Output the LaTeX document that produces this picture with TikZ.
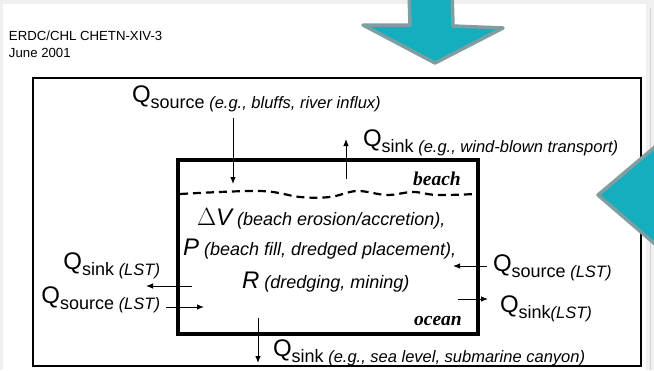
\documentclass[tikz,border=0pt]{standalone}
\usepackage{fontspec}
\setmainfont{Liberation Sans}
\newfontfamily\serifbi{Liberation Serif}
\usetikzlibrary{arrows.meta}
\definecolor{tealfill}{HTML}{14AEBF}
\definecolor{tealedge}{HTML}{7F9EA2}
\newcommand{\QQ}[1]{\raisebox{5.5pt}{\fontsize{24}{24}\selectfont Q}{\fontsize{18}{18}\selectfont #1}}
\newcommand{\ITx}[1]{{\fontsize{16.5}{16.5}\selectfont\itshape #1}}
\newcommand{\ITin}[1]{{\fontsize{18}{18}\selectfont\itshape #1}}
\newcommand{\BIG}[1]{{\fontsize{24}{24}\selectfont #1}}
\begin{document}
\begin{tikzpicture}[x=1pt,y=-1pt,
  lab/.style={inner sep=0pt, outer sep=0pt, anchor=base west},
  flow/.style={-{Latex[length=7pt,width=5.5pt]}, line width=0.9pt},
  zone/.style={inner sep=0pt, anchor=base east, font=\serifbi\bfseries\itshape\fontsize{19.5}{19.5}\selectfont},
  tealarrow/.style={draw=tealedge, fill=tealfill, line width=3.5pt, line join=round}]
\useasboundingbox (0,0) rectangle (654,370);
% background / page
\fill[gray!12] (0,0) rectangle (654,370);
\fill[white] (3,4) rectangle (646,370);
\draw[gray!35, line width=0.8pt] (650,8) -- (650,370);
% header
\node[lab, font=\fontsize{13.2}{13.2}\selectfont] (hdr1) at (9,40) {ERDC/CHL CHETN-XIV-3};
\node[lab, font=\fontsize{13.2}{13.2}\selectfont] (hdr2) at (9,57) {June 2001};
% outer frame
\draw[line width=1.2pt] (33,78) rectangle (641,366);
% inner box
\node[draw, line width=3.5pt, minimum width=300pt, minimum height=174pt, inner sep=0pt] (box) at (328,247) {};
% shoreline
\draw[dash pattern=on 8pt off 5pt, line width=2.2pt] plot[smooth, tension=0.6] coordinates {(180,194) (260,191) (300,197) (330,197) (357,191) (387,195) (413,192) (437,195) (476,194)};
% zone labels
\node[zone] (beach) at (461,185) {beach};
\node[zone] (ocean) at (462,325) {ocean};
% inner text
\node[lab] (dv) at (197,225) {\BIG{$\Delta$\itshape V}\ITin{ (beach erosion/accretion),}};
\node[lab] (pp) at (183,255) {\BIG{\itshape P}\ITin{ (beach fill, dredged placement),}};
\node[lab] (rr) at (242,288) {\BIG{\itshape R}\ITin{ (dredging, mining)}};
% flux labels
\node[lab] (qsrcT) at (132,108) {\QQ{source}\ITx{ (e.g., bluffs, river influx)}};
\node[lab] (qsnkT) at (363,152) {\QQ{sink}\ITx{ (e.g., wind-blown transport)}};
\node[lab, anchor=base east] (qsnkL) at (160,275) {\QQ{sink}\ITx{ (LST)}};
\node[lab, anchor=base east] (qsrcL) at (160,309) {\QQ{source}\ITx{ (LST)}};
\node[lab] (qsrcR) at (493,277) {\QQ{source}\ITx{ (LST)}};
\node[lab] (qsnkR) at (500,318) {\QQ{sink}\ITx{(LST)}};
\node[lab] (qsnkB) at (273,362) {\QQ{sink}\ITx{ (e.g., sea level, submarine canyon)}};
% arrow ends
\coordinate (a1s) at (233,118); \coordinate (a1e) at (233,184);
\coordinate (a2s) at (346,179); \coordinate (a2e) at (346,139);
\coordinate (a3s) at (192,286); \coordinate (a3e) at (146,286);
\coordinate (a4s) at (166,307); \coordinate (a4e) at (204,307);
\coordinate (a5s) at (487,266); \coordinate (a5e) at (453,266);
\coordinate (a6s) at (458,299); \coordinate (a6e) at (488,299);
\coordinate (a7s) at (258,318); \coordinate (a7e) at (258,363);
\draw[flow] (a1s) -- (a1e);
\draw[flow] (a2s) -- (a2e);
\draw[flow] (a3s) -- (a3e);
\draw[flow] (a4s) -- (a4e);
\draw[flow] (a5s) -- (a5e);
\draw[flow] (a6s) -- (a6e);
\draw[flow] (a7s) -- (a7e);
% teal arrows
\draw[tealarrow] (409,-10) -- (452,-10) -- (453,26) -- (503,28) -- (435,63) -- (363,25) -- (410,25) -- cycle;
\draw[tealarrow] (598,195) -- (662,141) -- (662,250) -- cycle;
\end{tikzpicture}
\end{document}
